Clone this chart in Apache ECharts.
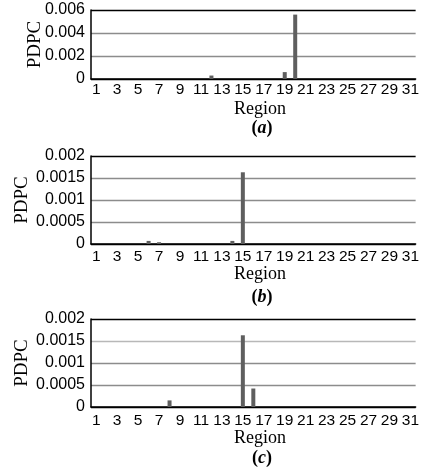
<!DOCTYPE html>
<html>
<head>
<meta charset="utf-8">
<script src="https://cdn.jsdelivr.net/npm/echarts@6/dist/echarts.min.js"></script>
<style>
  html, body { margin: 0; padding: 0; background: #fff; }
  #chart { width: 422px; height: 471px; }
</style>
</head>
<body>
<div id="chart"></div>
<script>
// regions on the x axis
const regions = ['1','2','3','4','5','6','7','8','9','10','11','12','13','14','15','16',
  '17','18','19','20','21','22','23','24','25','26','27','28','29','30','31'];

// PDPC per region, panel (a)
const pdpcA = [0,0,0,0,0,0,0,0,0,0,0,0.0003,0,0,0,0,0,0,0.0006,0.0056,0,0,0,0,0,0,0,0,0,0,0];
// panel (b)
const pdpcB = [0,0,0,0,0,0.00007,0.00004,0,0,0,0,0,0,0.00007,0.00163,0,0,0,0,0,0,0,0,0,0,0,0,0,0,0,0];
// panel (c)
const pdpcC = [0,0,0,0,0,0,0,0.00015,0,0,0,0,0,0,0.00163,0.00042,0,0,0,0,0,0,0,0,0,0,0,0,0,0,0];

const yMaxA = 0.006, yStepA = 0.002;
const yMaxBC = 0.002, yStepBC = 0.0005;

const panelLabels = ['a', 'b', 'c'];

const sans = '"Liberation Sans", Arial, sans-serif';
const serif = '"Liberation Serif", "Times New Roman", serif';
const gray = '#8c8c8c';

// grid boxes: top / height for each panel
const panels = [
  { top: 10, height: 69, max: yMaxA, step: yStepA, data: pdpcA, margin: 3,
    splitColors: ['#000', gray, gray, '#000'], regionY: 109, tagY: 128, nameX: 35 },
  { top: 156, height: 88, max: yMaxBC, step: yStepBC, data: pdpcB, margin: 5,
    splitColors: ['#000', gray, gray, gray, '#000'], regionY: 274, tagY: 297, nameX: 22 },
  { top: 319, height: 88, max: yMaxBC, step: yStepBC, data: pdpcC, margin: 6,
    splitColors: ['#000', gray, gray, '#b8b8b8', '#000'], regionY: 438, tagY: 458, nameX: 22 }
];

const chart = echarts.init(document.getElementById('chart'));

const grids = [], xAxes = [], yAxes = [], series = [], graphics = [];

panels.forEach((p, i) => {
  grids.push({ left: 91, width: 326, top: p.top, height: p.height, containLabel: false });
  xAxes.push({
    type: 'category', gridIndex: i, data: regions,
    axisLine: { lineStyle: { color: '#000', width: 1.5 } },
    axisTick: { show: false },
    axisLabel: { interval: 1, margin: p.margin, color: '#000', fontFamily: sans, fontSize: 15.5 }
  });
  yAxes.push({
    type: 'value', gridIndex: i, min: 0, max: p.max, interval: p.step,
    axisLine: { show: true, lineStyle: { color: '#000', width: 1.5 } },
    axisTick: { show: false },
    axisLabel: { margin: 6, color: '#000', fontFamily: sans, fontSize: 16,
      formatter: v => String(+v.toFixed(4)) },
    splitLine: { lineStyle: { color: p.splitColors, width: 1.3 } }
  });
  series.push({
    type: 'bar', xAxisIndex: i, yAxisIndex: i, data: p.data,
    barWidth: 4, itemStyle: { color: '#5f5f5f' }, silent: true
  });
  // axis titles and panel tag
  graphics.push({
    type: 'text', x: p.nameX, y: p.top + p.height / 2, rotation: Math.PI / 2,
    style: { text: 'PDPC', font: '19px ' + serif, fill: '#000', align: 'center', verticalAlign: 'middle' }
  });
  graphics.push({
    type: 'text', x: 260, y: p.regionY,
    style: { text: 'Region', font: '18px ' + serif, fill: '#000', align: 'center', verticalAlign: 'middle' }
  });
  graphics.push({
    type: 'text', x: 262, y: p.tagY,
    style: {
      text: '{p|(}{i|' + panelLabels[i] + '}{p|)}', align: 'center', verticalAlign: 'middle',
      rich: {
        p: { fontFamily: serif, fontSize: 18, fontWeight: 'bold', fill: '#000' },
        i: { fontFamily: serif, fontSize: 18, fontWeight: 'bold', fontStyle: 'italic', fill: '#000' }
      }
    }
  });
});

chart.setOption({
  backgroundColor: '#fff',
  animation: false,
  grid: grids,
  xAxis: xAxes,
  yAxis: yAxes,
  series: series,
  graphic: graphics
});
</script>
</body>
</html>
